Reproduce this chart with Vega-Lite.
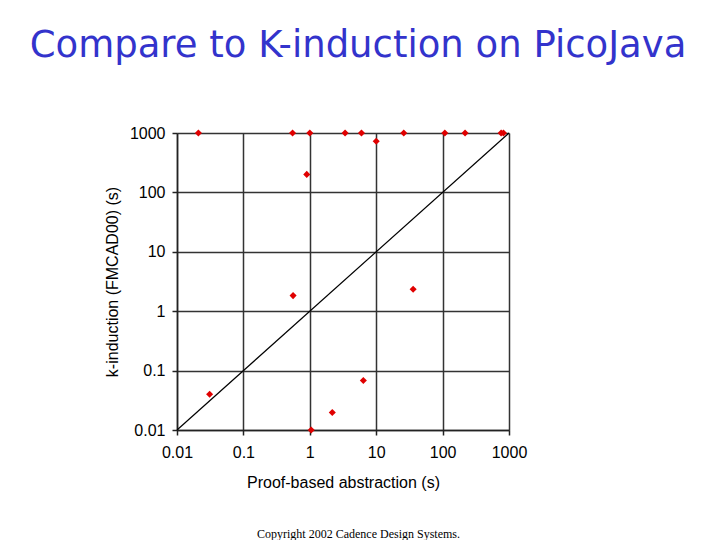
{
  "$schema": "https://vega.github.io/schema/vega-lite/v6.json",
  "width": 332,
  "height": 297,
  "autosize": "none",
  "padding": {"left": 177, "top": 133, "right": 211, "bottom": 110},
  "background": "white",
  "title": {
    "text": "Compare to K-induction on PicoJava",
    "font": "DejaVu Sans",
    "fontSize": 37,
    "fontWeight": "normal",
    "color": "#3333cc",
    "anchor": "middle",
    "frame": "group",
    "dx": 15,
    "offset": 60
  },
  "config": {
    "view": {"stroke": null},
    "axis": {
      "labelFont": "Liberation Sans",
      "titleFont": "Liberation Sans",
      "labelFontSize": 16,
      "titleFontSize": 16,
      "titleFontWeight": "normal",
      "labelColor": "#000",
      "titleColor": "#000",
      "domainColor": "#222",
      "tickColor": "#222",
      "gridColor": "#333",
      "gridWidth": 1.5,
      "domainWidth": 1.5,
      "tickWidth": 1.5,
      "gridOpacity": 1,
      "tickSize": 5
    }
  },
  "resolve": {"axis": {"x": "independent", "y": "independent"}},
  "layer": [
    {
      "data": {"values": [{"x": 0.01, "y": 0.01}, {"x": 1000, "y": 1000}]},
      "mark": {"type": "line", "color": "#000", "strokeWidth": 1.2},
      "encoding": {
        "x": {"field": "x", "type": "quantitative",
              "scale": {"type": "log", "domain": [0.01, 1000]},
              "axis": {"orient": "bottom", "title": "Copyright 2002 Cadence Design Systems.",
                       "labels": false, "ticks": false, "domain": false, "grid": false,
                       "titleFont": "Liberation Serif", "titleFontSize": 12,
                       "titleX": 181, "titleY": 103, "titleBaseline": "middle"}},
        "y": {"field": "y", "type": "quantitative",
              "scale": {"type": "log", "domain": [0.01, 1000]},
              "axis": null}
      }
    },
    {
      "data": {"values": [
        {"abstraction": 0.021, "kinduction": 1000},
        {"abstraction": 0.55, "kinduction": 1000},
        {"abstraction": 1.0, "kinduction": 1000},
        {"abstraction": 3.4, "kinduction": 1000},
        {"abstraction": 6.0, "kinduction": 1000},
        {"abstraction": 26, "kinduction": 1000},
        {"abstraction": 108, "kinduction": 1000},
        {"abstraction": 218, "kinduction": 1000},
        {"abstraction": 762, "kinduction": 1000},
        {"abstraction": 826, "kinduction": 1000},
        {"abstraction": 10, "kinduction": 724},
        {"abstraction": 0.9, "kinduction": 201},
        {"abstraction": 0.56, "kinduction": 1.83},
        {"abstraction": 36, "kinduction": 2.34},
        {"abstraction": 0.031, "kinduction": 0.04},
        {"abstraction": 6.4, "kinduction": 0.068},
        {"abstraction": 2.18, "kinduction": 0.0197},
        {"abstraction": 1.05, "kinduction": 0.01}
      ]},
      "mark": {"type": "point", "shape": "diamond", "filled": true, "color": "#e00000", "size": 50, "opacity": 1},
      "encoding": {
        "x": {"field": "abstraction", "type": "quantitative",
              "scale": {"type": "log", "domain": [0.01, 1000]},
              "axis": {"orient": "bottom", "title": "Proof-based abstraction (s)",
                       "values": [0.01, 0.1, 1, 10, 100, 1000], "grid": true,
                       "labelPadding": 9, "labelFlush": false,
                       "labelExpr": "datum.value < 1 ? format(datum.value, '.2~f') : format(datum.value, 'd')",
                       "titlePadding": 14}},
        "y": {"field": "kinduction", "type": "quantitative",
              "scale": {"type": "log", "domain": [0.01, 1000]},
              "axis": {"orient": "left", "title": "k-induction (FMCAD00) (s)",
                       "values": [0.01, 0.1, 1, 10, 100, 1000], "grid": true,
                       "labelPadding": 7, "labelFlush": false,
                       "labelExpr": "datum.value < 1 ? format(datum.value, '.2~f') : format(datum.value, 'd')",
                       "titlePadding": 9}}
      }
    }
  ]
}
